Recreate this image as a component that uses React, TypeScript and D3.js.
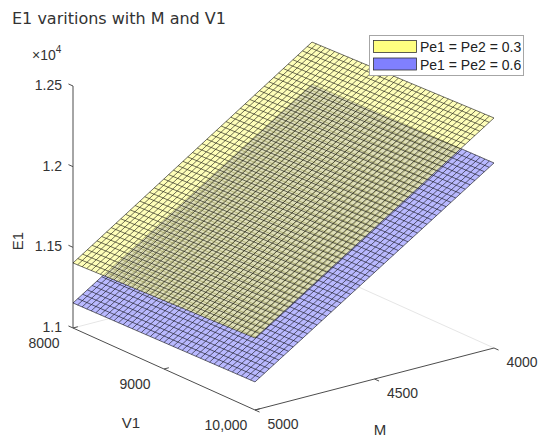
import React from 'react';
import * as d3 from 'd3';

const TITLE = 'E1 varitions with M and V1';
const V1_RANGE = [8000, 10000];
const M_RANGE = [5000, 4000];
const E1_RANGE = [11000, 12500];
const V1_TICKS = [8000, 9000, 10000];
const V1_TICK_LABELS = ['8000', '9000', '10,000'];
const M_TICKS = [5000, 4500, 4000];
const M_TICK_LABELS = ['5000', '4500', '4000'];
const E1_TICKS = [11000, 11500, 12000, 12500];
const E1_TICK_LABELS = ['1.1', '1.15', '1.2', '1.25'];
const V1_GRID_STEP = 50;
const M_GRID_STEP = 20;
// E1 at the surface corners: rows V1 = 8000, 10000 ; columns M = 5000, 4000
const E1_PE03 = [[11403, 12388], [11446, 12426]];
const E1_PE06 = [[11155, 12128], [11174, 12147]];
const SERIES_NAMES = ['Pe1 = Pe2 = 0.3', 'Pe1 = Pe2 = 0.6'];
const SERIES_COLORS = ['#ffff80', '#8080ff'];

const W = 550;
const H = 444;
const ORIGIN = [73, 328];
const A_VEC = [182, 82];
const B_VEC = [239, -62];
const Z_LEN = 242;

const aScale = d3.scaleLinear().domain(V1_RANGE).range([0, 1]);
const bScale = d3.scaleLinear().domain(M_RANGE).range([0, 1]);
const zScale = d3.scaleLinear().domain(E1_RANGE).range([0, Z_LEN]);

function proj(v1: number, m: number, e: number): [number, number] {
  const a = aScale(v1);
  const b = bScale(m);
  const z = zScale(e);
  return [ORIGIN[0] + a * A_VEC[0] + b * B_VEC[0], ORIGIN[1] + a * A_VEC[1] + b * B_VEC[1] - z];
}

const v1Grid = d3.range(V1_RANGE[0], V1_RANGE[1] + 1e-6, V1_GRID_STEP);
const mGrid = d3.range(M_RANGE[1], M_RANGE[0] + 1e-6, M_GRID_STEP);

function surfaceValue(corners: number[][], v1: number, m: number) {
  const a = aScale(v1);
  const b = bScale(m);
  const top = corners[0][0] * (1 - b) + corners[0][1] * b;
  const bot = corners[1][0] * (1 - b) + corners[1][1] * b;
  return top * (1 - a) + bot * a;
}

function buildSurface(corners: number[][]) {
  const pts = v1Grid.map((v) => mGrid.map((m) => proj(v, m, surfaceValue(corners, v, m))));
  const cells = d3.path();
  for (let i = 0; i < v1Grid.length - 1; i++) {
    for (let j = 0; j < mGrid.length - 1; j++) {
      const p0 = pts[i][j], p1 = pts[i + 1][j], p2 = pts[i + 1][j + 1], p3 = pts[i][j + 1];
      cells.moveTo(p0[0], p0[1]);
      cells.lineTo(p1[0], p1[1]);
      cells.lineTo(p2[0], p2[1]);
      cells.lineTo(p3[0], p3[1]);
      cells.closePath();
    }
  }
  const line = d3.line();
  const edges: string[] = [];
  for (let i = 0; i < v1Grid.length; i++) edges.push(line(pts[i]) as string);
  for (let j = 0; j < mGrid.length; j++) edges.push(line(pts.map((r) => r[j])) as string);
  return { cells: cells.toString(), edges: edges.join('') };
}

const FONT = '"Liberation Sans", Arial, sans-serif';
const AXIS_COLOR = '#4d4d4d';
const TEXT_COLOR = '#333333';

export default function App() {
  const surfaces = [
    { corners: E1_PE06, color: SERIES_COLORS[1] },
    { corners: E1_PE03, color: SERIES_COLORS[0] },
  ].map((s) => ({ ...s, ...buildSurface(s.corners) }));

  const zAxisBottom = proj(V1_RANGE[0], M_RANGE[0], E1_RANGE[0]);
  const zAxisTop = proj(V1_RANGE[0], M_RANGE[0], E1_RANGE[1]);
  const front = proj(V1_RANGE[1], M_RANGE[0], E1_RANGE[0]);
  const right = proj(V1_RANGE[1], M_RANGE[1], E1_RANGE[0]);
  const back = proj(V1_RANGE[0], M_RANGE[1], E1_RANGE[0]);

  const aN = [A_VEC[0] / Math.hypot(A_VEC[0], A_VEC[1]), A_VEC[1] / Math.hypot(A_VEC[0], A_VEC[1])];
  const bN = [B_VEC[0] / Math.hypot(B_VEC[0], B_VEC[1]), B_VEC[1] / Math.hypot(B_VEC[0], B_VEC[1])];
  const TL = 5;

  return (
    <svg width={W} height={H} style={{ position: 'absolute', left: 0, top: 0, background: '#fff' }}>
      <rect x={0} y={0} width={W} height={H} fill="#fff" />
      <text x={12} y={24} fontFamily='"DejaVu Sans", sans-serif' fontSize={16} fill={TEXT_COLOR}>{TITLE}</text>

      {/* faint back floor edges */}
      <line x1={zAxisBottom[0]} y1={zAxisBottom[1]} x2={back[0]} y2={back[1]} stroke="#e6e6e6" strokeWidth={1} />
      <line x1={back[0]} y1={back[1]} x2={right[0]} y2={right[1]} stroke="#e6e6e6" strokeWidth={1} />

      {/* axes */}
      <line x1={zAxisBottom[0]} y1={zAxisBottom[1]} x2={zAxisTop[0]} y2={zAxisTop[1]} stroke={AXIS_COLOR} strokeWidth={1} />
      <line x1={zAxisBottom[0]} y1={zAxisBottom[1]} x2={front[0]} y2={front[1]} stroke={AXIS_COLOR} strokeWidth={1} />
      <line x1={front[0]} y1={front[1]} x2={right[0]} y2={right[1]} stroke={AXIS_COLOR} strokeWidth={1} />

      {E1_TICKS.map((t, i) => {
        const p = proj(V1_RANGE[0], M_RANGE[0], t);
        return (
          <g key={'z' + t}>
            <line x1={p[0]} y1={p[1]} x2={p[0] - aN[0] * TL} y2={p[1] - aN[1] * TL} stroke={AXIS_COLOR} />
            <text x={p[0] - 11} y={p[1] + 4} textAnchor="end" fontFamily={FONT} fontSize={14} fill={TEXT_COLOR}>{E1_TICK_LABELS[i]}</text>
          </g>
        );
      })}
      <text x={32} y={60} fontFamily={FONT} fontSize={14} fill={TEXT_COLOR}>
        ×10<tspan fontSize={10} dy={-7}>4</tspan>
      </text>

      {V1_TICKS.map((t, i) => {
        const p = proj(t, M_RANGE[0], E1_RANGE[0]);
        return (
          <g key={'v' + t}>
            <line x1={p[0]} y1={p[1]} x2={p[0] + bN[0] * TL} y2={p[1] + bN[1] * TL} stroke={AXIS_COLOR} />
            <text x={p[0] - 29} y={p[1] + 20} textAnchor="middle" fontFamily={FONT} fontSize={14} fill={TEXT_COLOR}>{V1_TICK_LABELS[i]}</text>
          </g>
        );
      })}
      {M_TICKS.map((t, i) => {
        const p = proj(V1_RANGE[1], t, E1_RANGE[0]);
        return (
          <g key={'m' + t}>
            <line x1={p[0]} y1={p[1]} x2={p[0] + aN[0] * TL} y2={p[1] + aN[1] * TL} stroke={AXIS_COLOR} />
            <text x={p[0] + 28} y={p[1] + 19} textAnchor="middle" fontFamily={FONT} fontSize={14} fill={TEXT_COLOR}>{M_TICK_LABELS[i]}</text>
          </g>
        );
      })}
      <text x={131} y={428} textAnchor="middle" fontFamily={FONT} fontSize={15} fill={TEXT_COLOR}>V1</text>
      <text x={380} y={435} textAnchor="middle" fontFamily={FONT} fontSize={15} fill={TEXT_COLOR}>M</text>
      <text transform="translate(23,241) rotate(-90)" textAnchor="middle" fontFamily={FONT} fontSize={15} fill={TEXT_COLOR}>E1</text>

      {/* surfaces */}
      {surfaces.map((s, k) => (
        <g key={'s' + k}>
          <path d={s.cells} fill={s.color} fillOpacity={0.55} stroke="none" />
          <path d={s.edges} fill="none" stroke="#000" strokeOpacity={0.75} strokeWidth={0.75} />
        </g>
      ))}

      {/* legend */}
      <rect x={369.5} y={35.5} width={154} height={40} fill="#fff" stroke="#a6a6a6" strokeWidth={1} />
      {SERIES_NAMES.map((n, i) => (
        <g key={'l' + i}>
          <rect x={373.5} y={40.5 + i * 17.5} width={43} height={12} fill={SERIES_COLORS[i]} stroke="#333" strokeWidth={0.8} />
          <text x={420} y={52 + i * 17.5} fontFamily={FONT} fontSize={14} fill="#222">{n}</text>
        </g>
      ))}
    </svg>
  );
}
